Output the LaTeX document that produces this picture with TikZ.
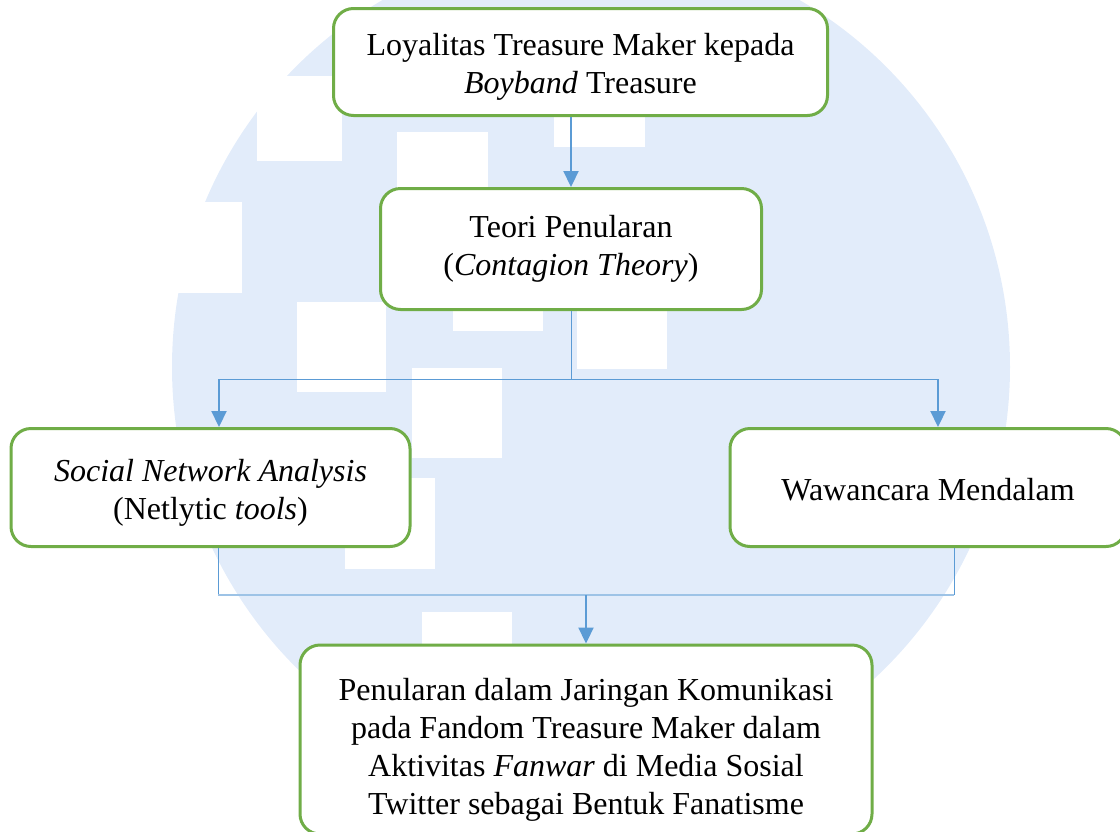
\documentclass[tikz,border=0pt]{standalone}
\usepackage{fontspec}
\setmainfont{Liberation Serif}
\usepackage{tikz}
\usetikzlibrary{arrows.meta}
\definecolor{boxgreen}{HTML}{70AD47}
\definecolor{linkblue}{HTML}{5B9BD5}
\definecolor{paleblue}{HTML}{9DC3E6}
\definecolor{wmblue}{HTML}{E2ECFA}
\newcommand{\padtop}[1]{\rule{0pt}{#1}}
\tikzset{
  stage/.style ={draw=boxgreen, line width=3pt, fill=white, rounded corners=20pt, align=center, inner sep=0pt,
    font=\fontsize{32}{38}\selectfont},
  flow/.style ={draw=linkblue, line width=2.2pt, -{Triangle[length=16pt,width=15pt]}},
  joint/.style ={draw=linkblue, line width=1pt}
}

\begin{document}
\begin{tikzpicture}[x=1pt,y=-1pt]
	\useasboundingbox (0,0) rectangle (1120,831);
	% watermark
	\fill[wmblue] (591,367) ellipse [x radius=419, y radius=423];
	\foreach \a/\b/\c/\d in {257/76/342/161, 160/202/242/293, 397/132/488/222, 554/57/645/147, 297/302/386/392,
	  453/241/543/331, 577/279/667/369, 412/368/502/458, 345/478/435/569, 422/612/512/702}
		\fill[white] (\a,\b) rectangle (\c,\d);
	\node[stage, minimum width=494pt, minimum height=107pt] (loyal) at (580.5,62) {\padtop{32pt}Loyalitas Treasure Maker kepada\\ \textit{Boyband} Treasure};
	\node[stage, minimum width=381pt, minimum height=121pt] (theory) at (571,249) {Teori Penularan\\ (\textit{Contagion Theory})};
	\node[stage, minimum width=399pt, minimum height=118pt] (sna) at (210.5,487.5) {\padtop{32pt}\textit{Social Network Analysis}\\ (Netlytic \textit{tools})};
	\node[stage, minimum width=396pt, minimum height=118pt] (interview) at (928,487.5) {\padtop{26pt}Wawancara Mendalam};
	\node[stage, minimum width=572pt, minimum height=189pt] (result) at (586,739.5) {\padtop{42pt}Penularan dalam Jaringan Komunikasi\\ pada Fandom Treasure Maker dalam\\ Aktivitas \textit{Fanwar} di Media Sosial\\ Twitter sebagai Bentuk Fanatisme};
	\coordinate (splitL) at (219,379);
	\coordinate (splitR) at (938,379);
	\coordinate (joinL) at (218,595);
	\coordinate (joinR) at (954,595);
	\draw[flow] (loyal.south -| theory.north) -- (theory.north);
	\draw[joint] (theory.south) -- (theory.south |- splitL);
	\draw[joint] (splitL) -- (splitR);
	\draw[flow] (splitL) -- (splitL |- sna.north);
	\draw[flow] (splitR) -- (splitR |- interview.north);
	\draw[joint] (joinL |- sna.south) -- (joinL);
	\draw[joint] (joinR |- interview.south) -- (joinR);
	\draw[joint, draw=paleblue, line width=2pt] (joinL) -- (joinR);
	\draw[flow] (result.north |- joinL) -- (result.north);
\end{tikzpicture}
\end{document}
